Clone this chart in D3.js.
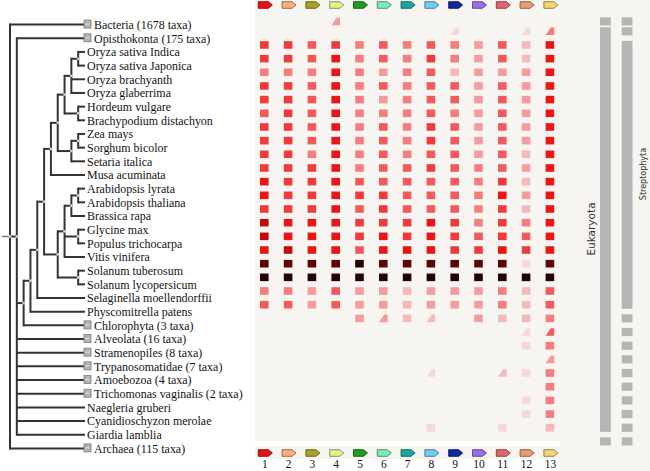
<!DOCTYPE html>
<html><head><meta charset="utf-8">
<script src="https://cdn.jsdelivr.net/npm/d3@7"></script>
<style>html,body{margin:0;padding:0;background:#fff}svg{display:block}</style>
</head><body>
<svg id="chart" width="650" height="471"></svg>
<script>
// ---------- DATA ----------
const rowNames = [
  "Bacteria (1678 taxa)", "Opisthokonta (175 taxa)",
  "Oryza sativa Indica", "Oryza sativa Japonica", "Oryza brachyanth", "Oryza glaberrima",
  "Hordeum vulgare", "Brachypodium distachyon", "Zea mays", "Sorghum bicolor", "Setaria italica",
  "Musa acuminata", "Arabidopsis lyrata", "Arabidopsis thaliana", "Brassica rapa", "Glycine max",
  "Populus trichocarpa", "Vitis vinifera", "Solanum tuberosum", "Solanum lycopersicum",
  "Selaginella moellendorffii", "Physcomitrella patens", "Chlorophyta (3 taxa)", "Alveolata (16 taxa)",
  "Stramenopiles (8 taxa)", "Trypanosomatidae (7 taxa)", "Amoebozoa (4 taxa)",
  "Trichomonas vaginalis (2 taxa)", "Naegleria gruberi", "Cyanidioschyzon merolae", "Giardia lamblia",
  "Archaea (115 taxa)"
];
const collapsedRows = [
  "Bacteria (1678 taxa)", "Opisthokonta (175 taxa)", "Chlorophyta (3 taxa)", "Alveolata (16 taxa)",
  "Stramenopiles (8 taxa)", "Trypanosomatidae (7 taxa)", "Amoebozoa (4 taxa)",
  "Trichomonas vaginalis (2 taxa)", "Archaea (115 taxa)"
];
// tree topology (leaves in row order)
const oryzaClade = [["Oryza sativa Indica", "Oryza sativa Japonica"], "Oryza brachyanth", "Oryza glaberrima"];
const bepClade = [oryzaClade, ["Hordeum vulgare", "Brachypodium distachyon"]];
const pacmadClade = [["Zea mays", "Sorghum bicolor"], "Setaria italica"];
const monocotClade = [[bepClade, pacmadClade], "Musa acuminata"];
const rosidClade = [[["Arabidopsis lyrata", "Arabidopsis thaliana"], "Brassica rapa"],
                    ["Glycine max", "Populus trichocarpa"], "Vitis vinifera"];
const eudicotClade = [rosidClade, ["Solanum tuberosum", "Solanum lycopersicum"]];
const plantClade = [[[[monocotClade, eudicotClade], "Selaginella moellendorffii"], "Physcomitrella patens"],
                    "Chlorophyta (3 taxa)"];
const eukaryoteClade = ["Opisthokonta (175 taxa)", plantClade, "Alveolata (16 taxa)", "Stramenopiles (8 taxa)",
  "Trypanosomatidae (7 taxa)", "Amoebozoa (4 taxa)", "Trichomonas vaginalis (2 taxa)", "Naegleria gruberi",
  "Cyanidioschyzon merolae", "Giardia lamblia"];
const treeTopology = ["Bacteria (1678 taxa)", eukaryoteClade, "Archaea (115 taxa)"];

const columns = ["1","2","3","4","5","6","7","8","9","10","11","12","13"];
const columnColors = ["#e8121a","#f5b27c","#aba222","#d9f28c","#1c9e1c","#7fe9b4","#19a89a",
                      "#74c9f2","#1226a2","#9b6fe2","#e2666e","#ea9b72","#f1d774"];
// intensity level per row x column: 0 none, 1..10 square, negative = partial (cut) cell
const cellLevels = [
  [0,0,0,-3,0,0,0,0,0,0,0,0,0],
  [0,0,0,0,0,0,0,0,-1,0,0,-1,-4],
  [6,6,5,6,4,5,4,5,4,3,5,2,7],
  [6,6,5,7,4,5,4,6,4,3,5,2,7],
  [4,4,4,7,4,3,4,5,2,3,3,3,7],
  [6,6,5,7,4,5,4,5,5,3,5,3,7],
  [6,6,5,7,4,3,4,5,5,3,5,3,7],
  [5,6,5,7,4,4,4,5,4,3,5,3,7],
  [6,6,5,7,4,5,4,6,5,3,5,3,7],
  [6,6,5,7,4,5,4,6,5,3,5,3,7],
  [6,6,4,7,4,5,4,5,5,3,5,2,7],
  [6,6,6,7,4,5,5,6,5,4,5,3,7],
  [7,6,6,7,5,5,5,5,5,4,6,2,7],
  [7,6,6,7,6,6,5,5,5,4,7,3,7],
  [6,6,6,7,5,6,5,5,5,4,6,2,7],
  [8,7,7,7,6,6,6,7,6,4,6,4,7],
  [8,7,7,7,6,7,6,7,6,5,6,5,7],
  [7,8,7,7,5,7,7,7,6,6,7,6,7],
  [9,9,9,9,10,9,9,9,9,9,9,1,9],
  [10,10,10,10,10,10,10,10,10,10,10,10,10],
  [4,4,3,5,3,3,2,3,3,3,4,2,5],
  [5,5,3,5,3,3,2,3,3,3,4,2,5],
  [0,0,0,0,3,-3,2,-2,0,3,2,2,4],
  [0,0,0,0,0,0,0,0,0,0,0,-1,-5],
  [0,0,0,0,0,0,0,0,0,0,0,1,4],
  [0,0,0,0,0,0,0,0,0,0,0,0,-3],
  [0,0,0,0,0,0,0,-1,0,0,-2,1,4],
  [0,0,0,0,0,0,0,0,0,0,0,0,4],
  [0,0,0,0,0,0,0,0,0,0,0,1,4],
  [0,0,0,0,0,0,0,0,0,0,0,1,4],
  [0,0,0,0,0,0,0,1,0,0,1,0,2],
  [0,0,0,0,0,0,0,0,0,0,0,0,0]
];
const groupBars = [
  {label: "Eukaryota", from: "Opisthokonta (175 taxa)", to: "Giardia lamblia"},
  {label: "Streptophyta", from: "Oryza sativa Indica", to: "Physcomitrella patens"}
];

// ---------- LAYOUT ----------
const svg = d3.select("#chart");
const W = 650, H = 471;

const yRow = d3.scalePoint().domain(rowNames).range([17.6, 441.4]);
const yCell = n => yRow(n) + (n === rowNames[0] ? 3.8 : 0);
const yLabel = n => yRow(n) + 7;
const xCol = d3.scalePoint().domain(columns).range([264.3, 549.9]);
const levelColor = d3.scaleLinear()
  .domain([1,2,3,4,5,6,7,8,9,10])
  .range(["#f7d8d8","#f6b9b9","#f59b9b","#f47d7d","#f25b5b","#ef3b3b","#ec1414","#c20a0a","#5c0606","#220202"]);

// backgrounds
svg.append("rect").attr("x",0).attr("y",0).attr("width",W).attr("height",H).attr("fill","#fff");
svg.append("rect").attr("x",255).attr("y",0).attr("width",W-255).attr("height",441).attr("fill","#f7f5f2");
svg.append("rect").attr("x",560).attr("y",441).attr("width",W-560).attr("height",H-441).attr("fill","#f7f5f2");
svg.append("rect").attr("x",255).attr("y",446).attr("width",305).attr("height",13).attr("fill","#f7f5f2");

// ---------- TREE ----------
const root = d3.hierarchy(treeTopology, d => Array.isArray(d) ? d : null);
const xTree = d3.scaleLinear().domain([0, root.height]).range([85, 10]);
root.eachAfter(n => {
  if (!n.children) { n.py = yLabel(n.data); }
  else { n.py = (n.children[0].py + n.children[n.children.length-1].py) / 2; }
  n.px = xTree(n.height);
});
const gTree = svg.append("g").attr("fill","none").attr("stroke","#333").attr("stroke-width",2);
root.descendants().filter(n => n.children).forEach(n => {
  const ys = n.children.map(c => c.py);
  gTree.append("line").attr("x1",n.px).attr("x2",n.px)
    .attr("y1",d3.min(ys)-1).attr("y2",d3.max(ys)+1);
  n.children.forEach(c => {
    gTree.append("line").attr("x1",n.px).attr("x2",c.px).attr("y1",c.py).attr("y2",c.py);
  });
});
gTree.append("line").attr("x1",2).attr("x2",root.px).attr("y1",root.py).attr("y2",root.py)
  .attr("stroke-width",1.5).attr("stroke","#777");
svg.append("g").selectAll("circle").data(root.descendants().filter(n => n.children))
  .join("circle").attr("cx",d => d.px).attr("cy",d => d.py).attr("r",1.4).attr("fill","#cfcfcf");

// leaf labels and collapsed icons
const leaves = root.leaves();
const gLab = svg.append("g");
leaves.forEach(l => {
  const collapsed = collapsedRows.includes(l.data);
  if (collapsed) {
    gLab.append("rect").attr("x",84).attr("y",l.py-4.5).attr("width",7).attr("height",8)
      .attr("fill","#b2b2b2").attr("stroke","#7c7c7c").attr("stroke-width",0.8);
    gLab.append("line").attr("x1",85.5).attr("x2",89.5).attr("y1",l.py-0.5).attr("y2",l.py-0.5)
      .attr("stroke","#e8e8e8").attr("stroke-width",1);
  }
  gLab.append("text")
    .attr("transform", `translate(${collapsed ? 94 : 87},${l.py + 4.3}) scale(0.92,1)`)
    .attr("font-family","'Liberation Serif', 'Times New Roman', serif")
    .attr("font-size",13).attr("fill","#111").text(l.data);
});

// ---------- MATRIX ----------
const cw = 8.6, ch = 7.6;
const cells = [];
rowNames.forEach((r, i) => cellLevels[i].forEach((v, j) => { if (v !== 0) cells.push({r, c: columns[j], v}); }));
svg.append("g").selectAll("path").data(cells).join("path")
  .attr("d", d => {
    const x = xCol(d.c), y = yCell(d.r);
    if (d.v > 0) return `M${x-cw/2},${y-ch/2}h${cw}v${ch}h${-cw}Z`;
    return `M${x-cw/2},${y+ch/2}L${x+cw*0.1},${y-ch/2}H${x+cw/2}V${y+ch/2}Z`;
  })
  .attr("fill", d => levelColor(Math.abs(d.v)));

// column icons (top and bottom)
const tag = (x, y) => `M${x-7},${y-3.3}h10l4,3.3l-4,3.3h-10Z`;
[5, 453].forEach(yy => {
  svg.append("g").selectAll("path").data(columns).join("path")
    .attr("d", c => tag(xCol(c) + 1, yy))
    .attr("fill", (c, i) => columnColors[i])
    .attr("stroke", (c, i) => d3.color(columnColors[i]).darker(1.6))
    .attr("stroke-width", 0.9);
});
svg.append("g").selectAll("text").data(columns).join("text")
  .attr("x", c => xCol(c) + 0.5).attr("y", 467.5)
  .attr("text-anchor","middle")
  .attr("font-family","'Liberation Serif', 'Times New Roman', serif")
  .attr("font-size",11.5).attr("fill","#111").text(c => c);

// ---------- GROUP BARS ----------
const barX = [600, 621.7], barW = 10.8, half = 4.1;
groupBars.forEach((g, k) => {
  const i0 = rowNames.indexOf(g.from), i1 = rowNames.indexOf(g.to);
  const segs = [];
  rowNames.forEach((r, i) => { if (i < i0 || i > i1) segs.push([yCell(r)-half, yCell(r)+half]); });
  segs.push([yRow(g.from)-half, yRow(g.to)+half]);
  svg.append("g").selectAll("rect").data(segs).join("rect")
    .attr("x", barX[k]).attr("width", barW)
    .attr("y", d => d[0]).attr("height", d => d[1]-d[0])
    .attr("fill","#b5b5b5");
});
svg.append("text").attr("transform","translate(591,229) rotate(-90)")
  .attr("text-anchor","middle").attr("dominant-baseline","central")
  .attr("font-family","'DejaVu Sans', sans-serif").attr("font-size",10.5).attr("fill","#333")
  .text(groupBars[0].label);
svg.append("text").attr("transform","translate(643.5,174) rotate(-90)")
  .attr("text-anchor","middle").attr("dominant-baseline","central")
  .attr("font-family","'DejaVu Sans', sans-serif").attr("font-size",8).attr("fill","#333")
  .text(groupBars[1].label);
</script>
</body></html>
